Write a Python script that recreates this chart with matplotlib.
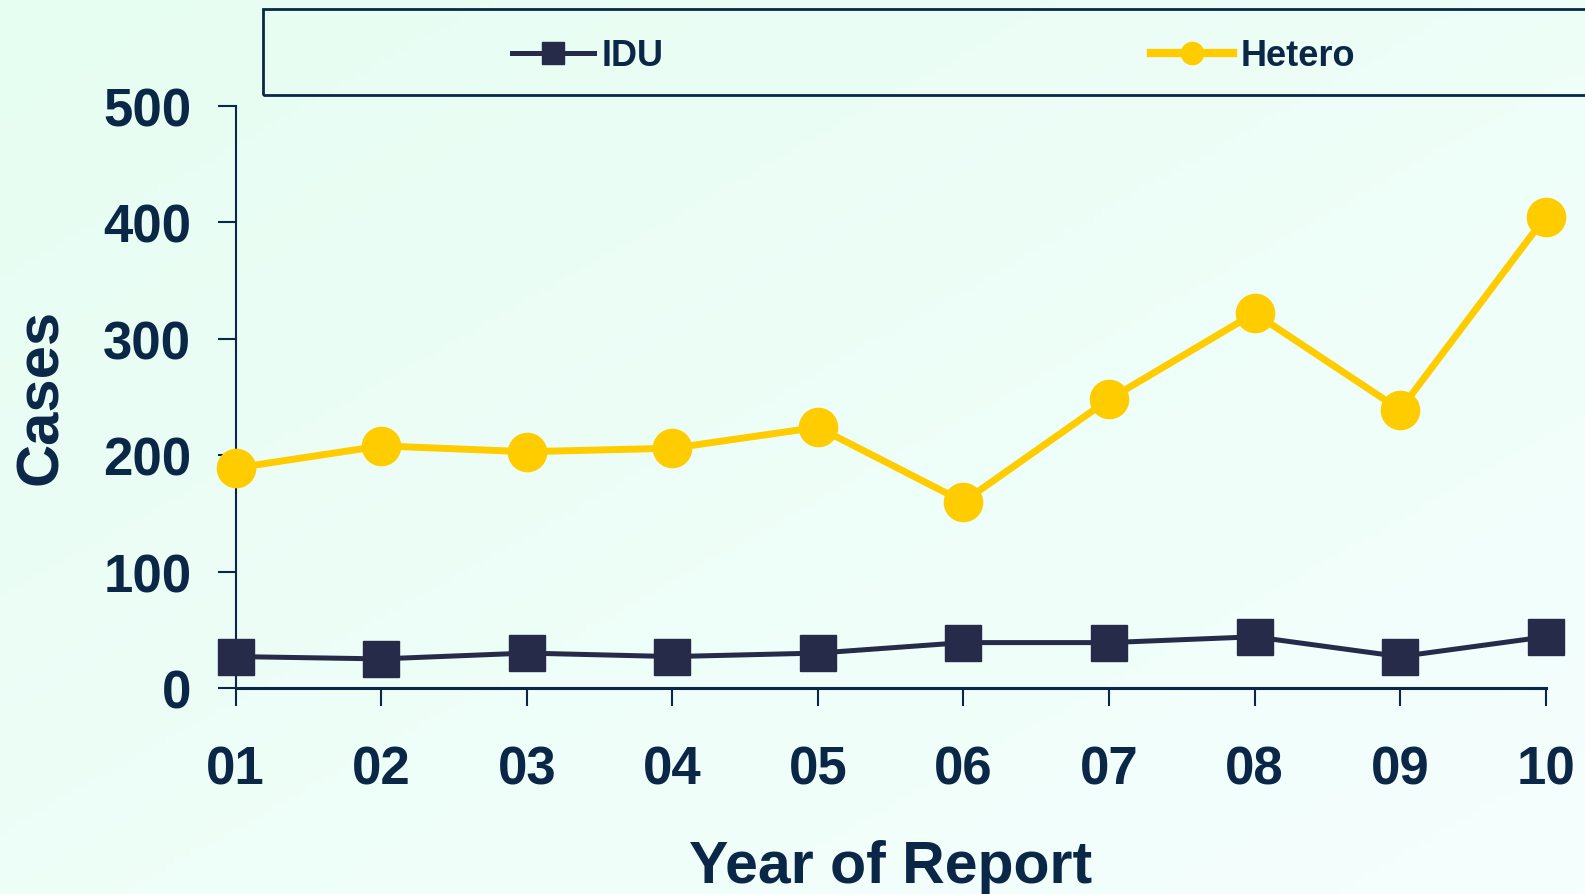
import numpy as np
import matplotlib.pyplot as plt
from matplotlib.lines import Line2D
from matplotlib.patches import Rectangle

years = ['01', '02', '03', '04', '05', '06', '07', '08', '09', '10']
idu = [27, 25, 30, 27, 30, 39, 39, 44, 27, 44]
hetero = [189, 208, 203, 206, 224, 160, 248, 322, 239, 405]
y_ticks = [0, 100, 200, 300, 400, 500]

navy = '#0b2747'
idu_color = '#262b4a'
het_color = '#ffcc00'

plt.rcParams['font.family'] = ['Liberation Sans', 'DejaVu Sans']
plt.rcParams['font.weight'] = 'bold'

W, H = 1585, 895
fig = plt.figure(figsize=(W / 100, H / 100), dpi=100)

# diagonal mint gradient background
bg = fig.add_axes([0, 0, 1, 1], zorder=-10)
gx, gy = np.meshgrid(np.linspace(0, 1, 200), np.linspace(0, 1, 120))
t = (gx + gy) / 2
c0 = np.array([0xe6, 0xfd, 0xf1]) / 255
c1 = np.array([0xf5, 0xff, 0xfe]) / 255
img = c0[None, None, :] * (1 - t[..., None]) + c1[None, None, :] * t[..., None]
bg.imshow(img, aspect='auto', extent=[0, 1, 0, 1], origin='upper')
bg.axis('off')

ax = fig.add_axes([235.7 / W, 1 - 689 / H, (1545.6 - 235.7) / W, (689 - 107) / H])
ax.set_facecolor('none')

x = np.arange(len(years))
ax.plot(x, hetero, color=het_color, lw=5, marker='o', ms=27.5,
        mec=het_color, clip_on=False, zorder=3)
ax.plot(x, idu, color=idu_color, lw=3.6, marker='s', ms=26,
        mec=idu_color, clip_on=False, zorder=4)

ax.set_xlim(0, len(years) - 1)
ax.set_ylim(0, 500)
ax.set_xticks(x)
ax.set_xticklabels(years)
ax.set_yticks(y_ticks)

for s in ['top', 'right']:
    ax.spines[s].set_visible(False)
ax.spines['left'].set_color(navy)
ax.spines['left'].set_linewidth(1.5)
ax.spines['bottom'].set_color(navy)
ax.spines['bottom'].set_linewidth(2.2)

ax.tick_params(axis='x', direction='out', length=13, width=1.5, color=navy,
               labelsize=38, labelcolor=navy, pad=28)
ax.tick_params(axis='y', direction='out', length=13, width=1.5, color=navy,
               labelsize=38, labelcolor=navy, pad=19)
for lab in ax.get_xticklabels() + ax.get_yticklabels():
    lab.set_fontweight('bold')

fig.text(890.6 / W, 1 - 868 / H, 'Year of Report', ha='center', va='center',
         fontsize=42.5, fontweight='bold', color=navy)
fig.text(42 / W, 1 - 397 / H, 'Cases', ha='center', va='center', rotation=90,
         fontsize=43, fontweight='bold', color=navy)

# legend box
fig.patches.append(Rectangle((263 / W, 1 - 96 / H), (1600 - 263) / W, 86 / H,
                             transform=fig.transFigure, facecolor='none',
                             edgecolor=navy, lw=2.0))

handles = [
    Line2D([], [], color=idu_color, lw=3.6, marker='s', ms=16, mec=idu_color),
    Line2D([], [], color=het_color, lw=6, marker='o', ms=16, mec=het_color),
]
fig.legend(handles, ['IDU', 'Hetero'], ncol=2, frameon=False,
           loc='center left', bbox_to_anchor=(512 / W, 1 - 57 / H),
           borderpad=0, borderaxespad=0, handlelength=2.28, handletextpad=0.2,
           columnspacing=13.5,
           prop={'size': 26, 'weight': 'bold'}, labelcolor=navy)

fig.savefig('out.png', dpi=100)
